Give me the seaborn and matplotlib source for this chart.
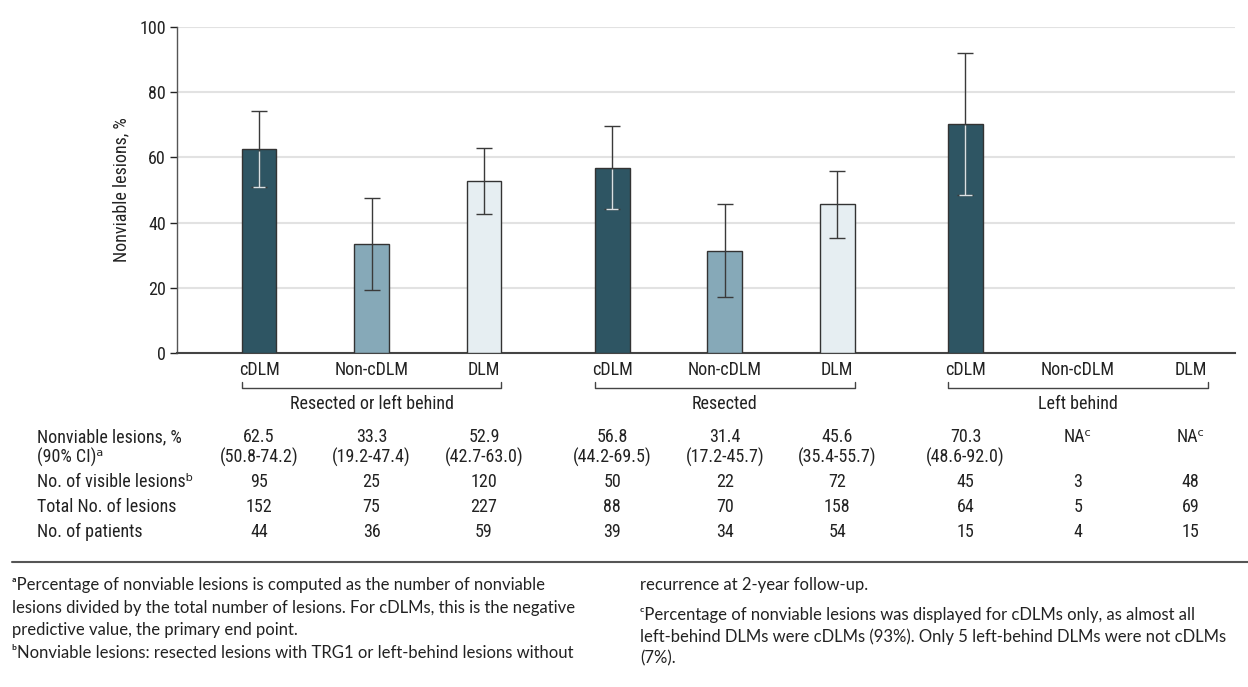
import matplotlib.pyplot as plt
import matplotlib.transforms as mtransforms
from matplotlib.lines import Line2D
import seaborn as sns
import numpy as np
import pandas as pd

# data
groups = ["Resected or left behind", "Resected", "Left behind"]
categories = ["cDLM", "Non-cDLM", "DLM"] * 3
pct = [62.5, 33.3, 52.9, 56.8, 31.4, 45.6, 70.3, np.nan, np.nan]
ci_lo = [50.8, 19.2, 42.7, 44.2, 17.2, 35.4, 48.6, np.nan, np.nan]
ci_hi = [74.2, 47.4, 63.0, 69.5, 45.7, 55.7, 92.0, np.nan, np.nan]
visible = [95, 25, 120, 50, 22, 72, 45, 3, 48]
total = [152, 75, 227, 88, 70, 158, 64, 5, 69]
patients = [44, 36, 59, 39, 34, 54, 15, 4, 15]

# bar positions: 3 per group with a wider gap between groups
positions = [g * 3.14 + i for g in range(3) for i in range(3)]
bar_w = 0.307

palette = {"cDLM": "#2e5563", "Non-cDLM": "#86a9b8", "DLM": "#e6eef2"}
narrow = ["Roboto Condensed", "DejaVu Sans Condensed", "Liberation Sans Narrow",
          "Roboto", "DejaVu Sans"]
foot_font = ["Lato", "DejaVu Sans"]
FS = 13

sns.set_theme(style="white")
plt.rcParams["font.family"] = narrow

df = pd.DataFrame({"pos": positions, "cat": categories, "pct": pct,
                   "lo": ci_lo, "hi": ci_hi})

W, H = 1248, 687
fig = plt.figure(figsize=(W / 100, H / 100), dpi=100)
ax = fig.add_axes([177 / W, 1 - 353 / H, (1235 - 177) / W, 326 / H])

sns.barplot(data=df.dropna(), x="pos", y="pct", hue="cat", palette=palette,
            native_scale=True, dodge=False, width=bar_w, errorbar=None,
            saturation=1, edgecolor="#333333", linewidth=1, legend=False,
            ax=ax, zorder=3)

# error bars; inside the dark bars the lower half is drawn light
ci = df.dropna()
ax.errorbar(ci["pos"], ci["pct"],
            yerr=[ci["pct"] - ci["lo"], ci["hi"] - ci["pct"]],
            fmt="none", ecolor="#3a3a3a", elinewidth=1, capsize=6,
            capthick=1, zorder=4)
dark = ci[ci["cat"] == "cDLM"]
ax.vlines(dark["pos"], dark["lo"], dark["pct"] - 0.4, color="#d9e0e3",
          linewidth=1, zorder=5)
ax.hlines(dark["lo"], dark["pos"] - 0.055, dark["pos"] + 0.055,
          color="#d9e0e3", linewidth=1, zorder=5)

ax.set_xlim((177 - 259) / 112.5, (1235 - 259) / 112.5)
ax.set_ylim(0, 100)
ax.set_yticks(range(0, 101, 20))
ax.yaxis.grid(True, color="#e2e2e2", linewidth=1.5, zorder=0)
ax.set_axisbelow(True)
ax.set_xticks(positions)
ax.set_xticklabels(categories)
ax.tick_params(axis="x", length=0, pad=6, labelsize=FS, colors="#222222")
ax.tick_params(axis="y", length=5, width=1, pad=3, labelsize=FS,
               colors="#222222", left=True)
ax.set_xlabel("")
ax.set_ylabel("Nonviable lesions, %", fontsize=FS, color="#222222")
ax.yaxis.set_label_coords(-0.044, 0.5)
for s in ["top", "right"]:
    ax.spines[s].set_visible(False)
ax.spines["left"].set_color("#555555")
ax.spines["left"].set_linewidth(1)
ax.spines["bottom"].set_color("#444444")
ax.spines["bottom"].set_linewidth(1.5)

# group brackets and labels
tr = mtransforms.blended_transform_factory(ax.transData, fig.transFigure)
fy = lambda px: 1 - px / H
for g, name in enumerate(groups):
    x0 = positions[g * 3] - bar_w / 2
    x1 = positions[g * 3 + 2] + bar_w / 2
    ax.add_line(Line2D([x0, x0, x1, x1], [fy(382), fy(388), fy(388), fy(382)],
                       transform=tr, color="#444444", linewidth=1,
                       clip_on=False))
    ax.text(positions[g * 3 + 1], fy(404), name, transform=tr, ha="center",
            va="center", fontsize=FS, color="#222222")

# table under the chart
row_labels = ["Nonviable lesions, %", "(90% CI)\u1d43",
              "No. of visible lesions\u1d47", "Total No. of lesions",
              "No. of patients"]
row_y = [437, 457, 482, 507, 532]
for lab, y in zip(row_labels, row_y):
    fig.text(37 / W, fy(y), lab, ha="left", va="center", fontsize=FS,
             color="#222222")
for i, x in enumerate(positions):
    if np.isnan(pct[i]):
        cells = ["NA\u1d9c", ""]
    else:
        cells = [f"{pct[i]:.1f}", f"({ci_lo[i]:.1f}-{ci_hi[i]:.1f})"]
    cells += [str(visible[i]), str(total[i]), str(patients[i])]
    for c, y in zip(cells, row_y):
        ax.text(x, fy(y), c, transform=tr, ha="center", va="center",
                fontsize=FS, color="#222222")

# footnotes
fig.add_artist(Line2D([12 / W, 1], [fy(562), fy(562)], color="#555555",
                      linewidth=1.5))
left_notes = [
    ("\u1d43Percentage of nonviable lesions is computed as the number of nonviable", 585),
    ("lesions divided by the total number of lesions. For cDLMs, this is the negative", 608),
    ("predictive value, the primary end point.", 630),
    ("\u1d47Nonviable lesions: resected lesions with TRG1 or left-behind lesions without", 653),
]
right_notes = [
    ("recurrence at 2-year follow-up.", 585),
    ("\u1d9cPercentage of nonviable lesions was displayed for cDLMs only, as almost all", 615),
    ("left-behind DLMs were cDLMs (93%). Only 5 left-behind DLMs were not cDLMs", 637),
    ("(7%).", 658),
]
for txt, y in left_notes:
    fig.text(12 / W, fy(y), txt, ha="left", va="center", fontsize=12,
             family=foot_font, color="#222222")
for txt, y in right_notes:
    fig.text(640 / W, fy(y), txt, ha="left", va="center", fontsize=12,
             family=foot_font, color="#222222")

fig.savefig("out.png", dpi=100)
